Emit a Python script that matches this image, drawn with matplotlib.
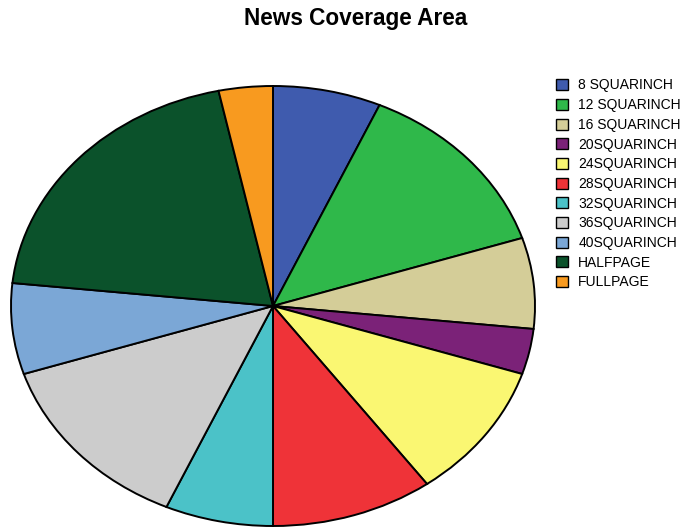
import matplotlib
matplotlib.use("Agg")
import matplotlib.pyplot as plt
from matplotlib.patches import Patch

plt.rcParams['font.family'] = ['Liberation Sans', 'DejaVu Sans']

# data
labels = ['8 SQUARINCH', '12 SQUARINCH', '16 SQUARINCH', '20SQUARINCH',
          '24SQUARINCH', '28SQUARINCH', '32SQUARINCH', '36SQUARINCH',
          '40SQUARINCH', 'HALFPAGE', 'FULLPAGE']
values = [2, 4, 2, 1, 3, 3, 2, 4, 2, 6, 1]
colors = ['#3F5BAE', '#2FB84A', '#D4CD98', '#7B2278', '#FAF772', '#EF3338',
          '#4BC2C8', '#CCCCCC', '#7BA7D6', '#0B522B', '#F89A1F']

W, H = 692, 527
fig = plt.figure(figsize=(W / 100, H / 100), dpi=100)

# pie axes in pixel box (ellipse)
ax = fig.add_axes([11 / W, 1 / H, 524 / W, 440 / H])
wedges, _ = ax.pie(values, colors=colors, startangle=90, counterclock=False,
                   wedgeprops=dict(edgecolor='black', linewidth=1.4))
for w in wedges:
    w.set_clip_on(False)
ax.set_aspect('auto')
ax.set_xlim(-1, 1)
ax.set_ylim(-1, 1)
ax.axis('off')

fig.text(356 / W, 1 - 19 / H, 'News Coverage Area', ha='center', va='center',
         fontsize=16.3, fontweight='bold')

handles = [Patch(facecolor=c, edgecolor='black', linewidth=1.0) for c in colors]
fig.legend(handles, labels, loc='upper left', bbox_to_anchor=(556 / W, 1 - 78.5 / H),
           frameon=False, fontsize=10, handlelength=0.85, handleheight=0.85,
           handletextpad=0.75, labelspacing=0.41, borderpad=0, borderaxespad=0)

fig.savefig('out.png', dpi=100)
